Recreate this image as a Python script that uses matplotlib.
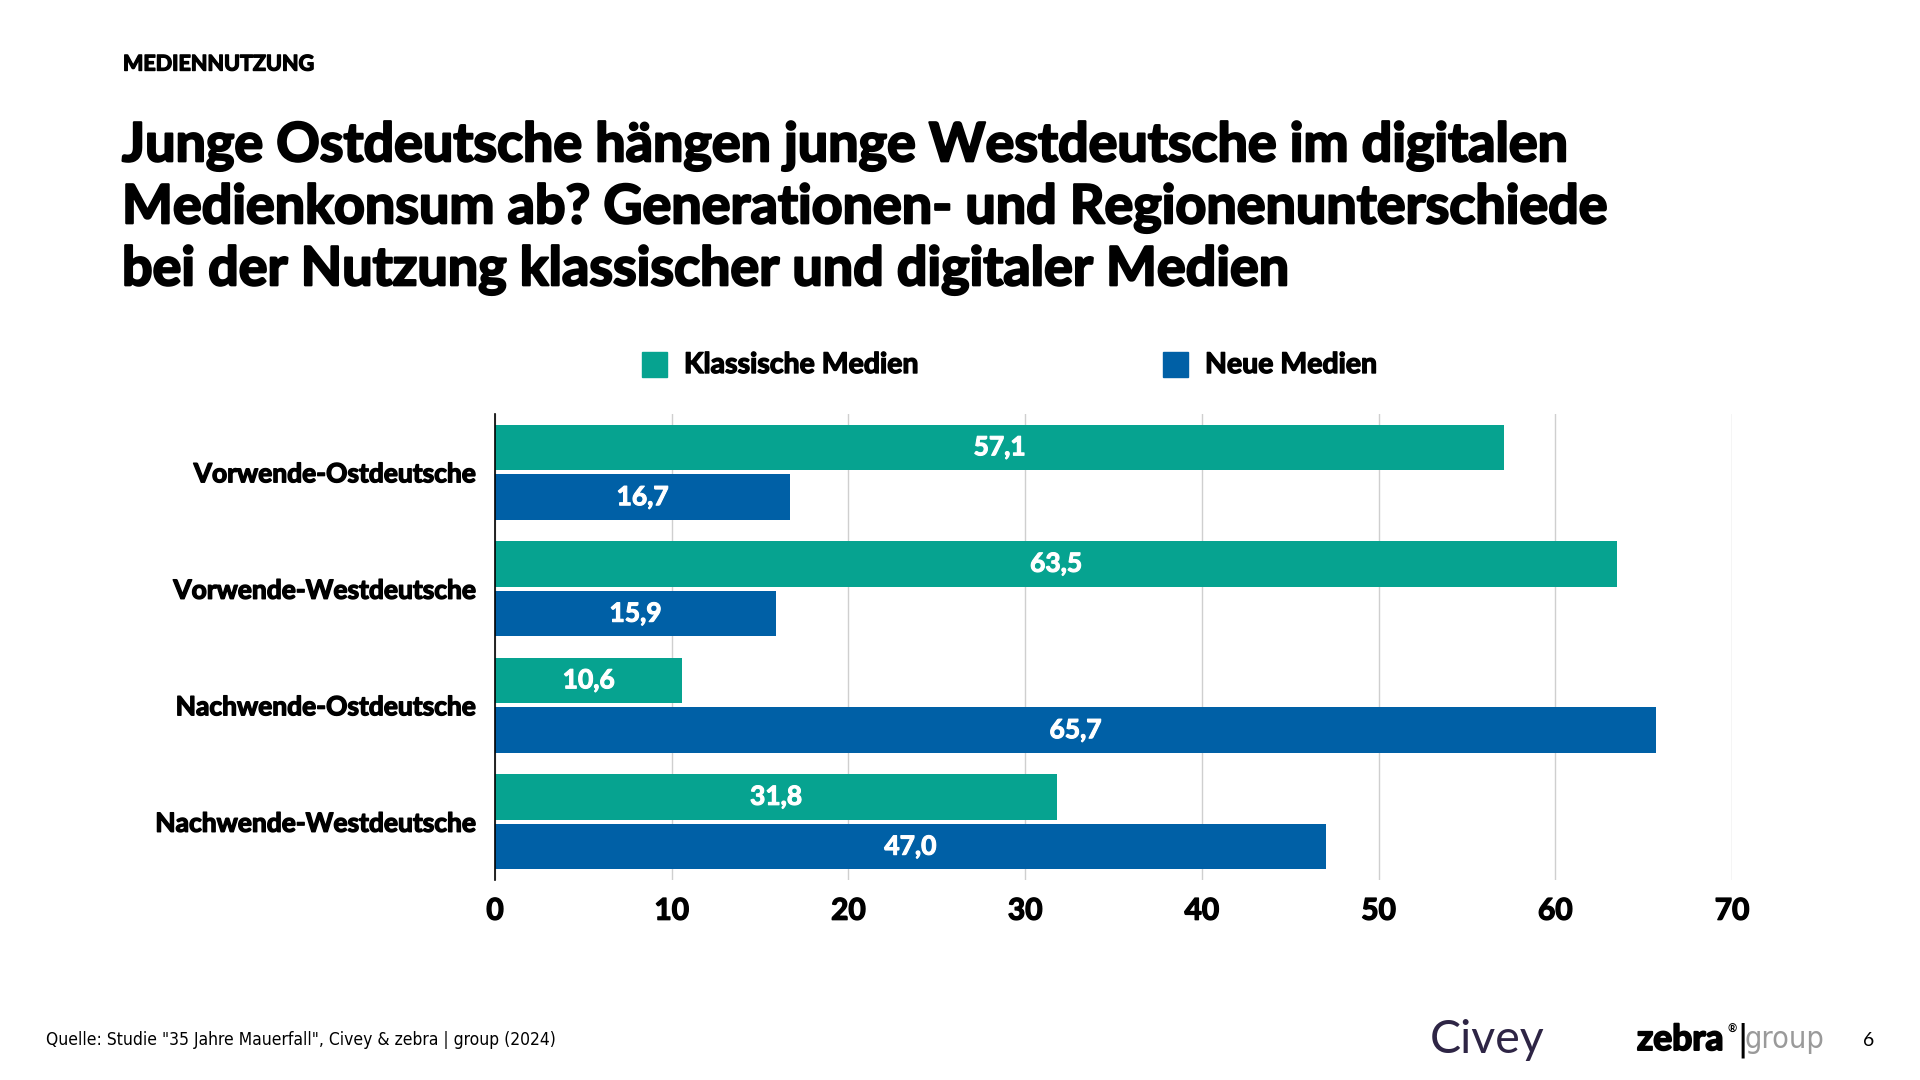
import matplotlib
matplotlib.use("Agg")
import matplotlib.pyplot as plt
from matplotlib.patches import Rectangle
import matplotlib.patheffects as pe

categories = ["Vorwende-Ostdeutsche", "Vorwende-Westdeutsche",
              "Nachwende-Ostdeutsche", "Nachwende-Westdeutsche"]
klassisch = [57.1, 63.5, 10.6, 31.8]
neu = [16.7, 15.9, 65.7, 47.0]
series_names = ["Klassische Medien", "Neue Medien"]
xticks = [0, 10, 20, 30, 40, 50, 60, 70]

TEAL = "#06A390"
BLUE = "#0060A6"
W, H = 1920, 1080

fig = plt.figure(figsize=(19.2, 10.8), dpi=100)
fig.patch.set_facecolor("white")

def fx(x):
    return x / W

def fy(y):
    return 1 - y / H

heavy = [pe.withStroke(linewidth=1.0, foreground="black")]

ax = fig.add_axes([fx(495), fy(880), fx(1732) - fx(495), fy(414) - fy(880)])
off = 0.214
h = 0.39
yk = [i - off for i in range(len(categories))]
yn = [i + off for i in range(len(categories))]
ax.barh(yk, klassisch, height=h, color=TEAL, zorder=3)
ax.barh(yn, neu, height=h, color=BLUE, zorder=3)

def fmt(v):
    return f"{v:.1f}".replace(".", ",")

for ys, vals in [(yk, klassisch), (yn, neu)]:
    for y, v in zip(ys, vals):
        ax.text(v / 2, y, fmt(v), ha="center", va="center", color="white",
                fontsize=19, fontweight="bold", family="Lato", zorder=4,
                path_effects=[pe.withStroke(linewidth=0.8, foreground="white")])

ax.set_xlim(0, 70)
ax.set_ylim(3.5, -0.5)
ax.set_xticks(xticks)
ax.set_xticklabels([str(t) for t in xticks], fontsize=21.5, fontweight="bold", family="Lato")
ax.set_yticks(range(len(categories)))
ax.set_yticklabels(categories, fontsize=19, fontweight="bold", family="Lato")
for lab in ax.get_xticklabels() + ax.get_yticklabels():
    lab.set_path_effects(heavy)
ax.tick_params(axis="both", length=0)
ax.tick_params(axis="x", pad=12)
ax.tick_params(axis="y", pad=14)
ax.grid(axis="x", color="#cfcfcf", linewidth=1, zorder=0)
for s in ["top", "right", "bottom"]:
    ax.spines[s].set_visible(False)
ax.spines["left"].set_color("black")
ax.spines["left"].set_linewidth(1.2)
ax.spines["left"].set_zorder(5)

# Header
fig.text(fx(123), fy(64), "MEDIENNUTZUNG", fontsize=15.5, fontweight="bold",
         family="Lato", va="center", ha="left", path_effects=heavy)
title_lines = ["Junge Ostdeutsche hängen junge Westdeutsche im digitalen",
               "Medienkonsum ab? Generationen- und Regionenunterschiede",
               "bei der Nutzung klassischer und digitaler Medien"]
for i, line in enumerate(title_lines):
    fig.text(fx(122), fy(146 + i * 62), line, fontsize=38.8, fontweight="bold",
             family="Lato", va="center", ha="left",
             path_effects=[pe.withStroke(linewidth=1.6, foreground="black")])

# Legend
leg_x = [642, 1163]
colors = [TEAL, BLUE]
for lx, c, name in zip(leg_x, colors, series_names):
    fig.patches.append(Rectangle((fx(lx), fy(377)), fx(25), fy(352) - fy(377),
                                 transform=fig.transFigure, color=c))
    fig.text(fx(lx + 42), fy(365), name, fontsize=20.5, fontweight="bold",
             family="Lato", va="center", ha="left", path_effects=heavy)

# Footer
fig.text(fx(46), fy(1040), 'Quelle: Studie "35 Jahre Mauerfall", Civey & zebra | group (2024)',
         fontsize=12.5, family="DejaVu Sans", fontstretch="condensed",
         va="center", ha="left")
fig.text(fx(1430), fy(1040), "Civey", fontsize=33.5, color="#2E2545",
         family="Lato", va="center", ha="left")
fig.text(fx(1637), fy(1040), "zebra", fontsize=25.5, fontweight="bold",
         family="Lato", va="center", ha="left",
         path_effects=[pe.withStroke(linewidth=1.4, foreground="black")])
fig.text(fx(1728), fy(1029), "®", fontsize=8, fontweight="bold",
         family="Lato", va="center", ha="left")
fig.text(fx(1736), fy(1040), "|", fontsize=26, color="black",
         family="DejaVu Sans", va="center", ha="left")
fig.text(fx(1745), fy(1040), "group", fontsize=22, color="#9a9a9a",
         family="DejaVu Sans", fontstretch="condensed", va="center", ha="left")
fig.text(fx(1869), fy(1041), "6", fontsize=14, family="Lato", va="center", ha="center")

fig.savefig("out.png", dpi=100, facecolor="white")
